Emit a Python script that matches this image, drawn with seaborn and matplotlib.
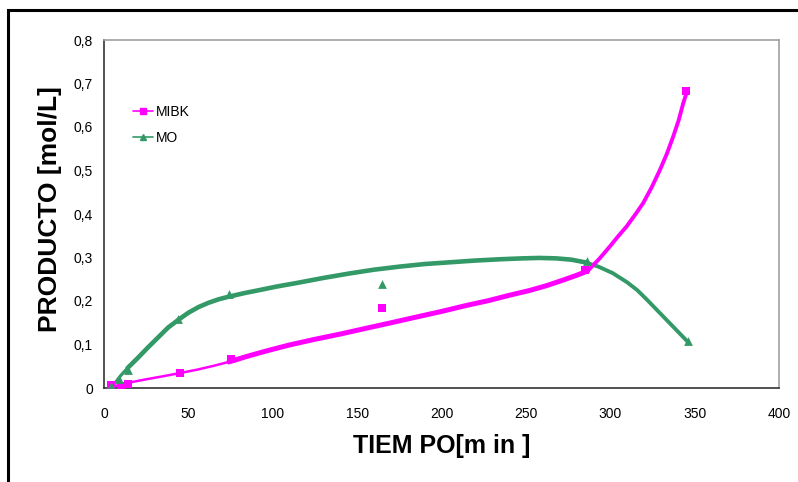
import matplotlib
matplotlib.use("Agg")
import matplotlib.pyplot as plt
from matplotlib.lines import Line2D
from matplotlib.patches import Rectangle
from matplotlib.ticker import FuncFormatter
import seaborn as sns
import pandas as pd

# Measured points
t_mibk = [4, 10, 14, 45, 75, 165, 285, 345]
mibk = [0.007, 0.005, 0.010, 0.034, 0.066, 0.184, 0.271, 0.683]
t_mo = [4, 9, 14, 44, 74, 165, 286, 346]
mo = [0.005, 0.020, 0.041, 0.159, 0.216, 0.239, 0.292, 0.108]

# Trend curves
fit_t_mibk = [3, 8, 13, 25, 35, 44.5, 55, 65, 74, 85, 97, 110, 125, 140, 155, 169,
              185, 200, 215, 228, 240, 252, 262, 272, 280, 286.6,
              293.5, 299.7, 304.5, 309.6, 314.5, 319.5, 324.5, 329.4, 333.5,
              337.3, 340.5, 343.2, 345.6]
fit_mibk = [0.0, 0.006, 0.011, 0.020, 0.027, 0.034, 0.042, 0.051, 0.060, 0.073,
            0.086, 0.099, 0.112, 0.124, 0.137, 0.149, 0.163, 0.176, 0.190, 0.201,
            0.213, 0.224, 0.235, 0.248, 0.259, 0.269,
            0.297, 0.325, 0.348, 0.371, 0.397, 0.425, 0.461, 0.501, 0.538,
            0.578, 0.615, 0.654, 0.683]
fit_t_mo = [4, 7, 10, 14, 20, 26, 32, 38, 44.5, 50, 56, 62, 68, 74, 83, 92, 102,
            115, 130, 145, 160, 175, 190, 205, 220, 235, 248, 258, 268, 277, 285,
            293, 301.5, 310, 316, 322, 328, 334, 340, 346]
fit_mo = [0.0, 0.014, 0.029, 0.046, 0.069, 0.093, 0.116, 0.139, 0.158, 0.173,
          0.186, 0.196, 0.204, 0.210, 0.218, 0.225, 0.233, 0.242, 0.253, 0.263,
          0.272, 0.279, 0.285, 0.289, 0.293, 0.296, 0.298, 0.299, 0.298, 0.295,
          0.289, 0.279, 0.264, 0.243, 0.225, 0.202, 0.178, 0.154, 0.130, 0.106]

x_ticks = [0, 50, 100, 150, 200, 250, 300, 350, 400]
y_ticks = [0, 0.1, 0.2, 0.3, 0.4, 0.5, 0.6, 0.7, 0.8]

MAGENTA = "#FF00FF"
GREEN = "#339966"

sns.set_style("white")
plt.rcParams["font.family"] = ["Liberation Sans", "DejaVu Sans"]
plt.rcParams["text.color"] = "black"
plt.rcParams["axes.labelcolor"] = "black"
plt.rcParams["lines.solid_joinstyle"] = "round"
plt.rcParams["lines.solid_capstyle"] = "round"

fig = plt.figure(figsize=(7.98, 4.82), dpi=100)
ax = fig.add_axes([104 / 798, 1 - 388 / 482, (779 - 104) / 798, (388 - 40) / 482])

fit_mibk_df = pd.DataFrame({"t": fit_t_mibk, "c": fit_mibk})
fit_mo_df = pd.DataFrame({"t": fit_t_mo, "c": fit_mo})

# trend lines (thickness varies along the curve like the original)
sns.lineplot(data=fit_mo_df.iloc[:4], x="t", y="c", sort=False, estimator=None,
             color=GREEN, lw=2.3, ax=ax)
sns.lineplot(data=fit_mo_df.iloc[3:31], x="t", y="c", sort=False, estimator=None,
             color=GREEN, lw=3.3, ax=ax)
sns.lineplot(data=fit_mo_df.iloc[30:], x="t", y="c", sort=False, estimator=None,
             color=GREEN, lw=2.8, ax=ax)
sns.lineplot(data=fit_mibk_df.iloc[:9], x="t", y="c", sort=False, estimator=None,
             color=MAGENTA, lw=1.8, ax=ax)
sns.lineplot(data=fit_mibk_df.iloc[8:26], x="t", y="c", sort=False, estimator=None,
             color=MAGENTA, lw=3.6, ax=ax)
sns.lineplot(data=fit_mibk_df.iloc[25:], x="t", y="c", sort=False, estimator=None,
             color=MAGENTA, lw=2.8, ax=ax)

sns.scatterplot(x=t_mibk, y=mibk, marker="s", s=28, color=MAGENTA, edgecolor=MAGENTA,
                linewidth=0, ax=ax, zorder=4)
sns.scatterplot(x=t_mo, y=mo, marker="^", s=40, color=GREEN, edgecolor=GREEN,
                linewidth=0, ax=ax, zorder=4)

ax.set_xlim(0, 400)
ax.set_ylim(0, 0.8)
ax.set_xticks(x_ticks)
ax.set_yticks(y_ticks)
ax.xaxis.set_major_formatter(FuncFormatter(lambda v, p: f"{v:g}"))
ax.yaxis.set_major_formatter(FuncFormatter(lambda v, p: f"{v:g}".replace(".", ",")))
ax.tick_params(axis="both", direction="out", length=5, width=1, color="#333333",
               labelsize=10, labelcolor="black")
ax.tick_params(axis="x", pad=9)
ax.tick_params(axis="y", pad=3)

for side in ["left", "bottom"]:
    ax.spines[side].set_color("#333333")
    ax.spines[side].set_linewidth(1.2)
for side in ["top", "right"]:
    ax.spines[side].set_color("#A0A0A0")
    ax.spines[side].set_linewidth(1.2)

ax.set_xlabel("TIEM PO[m in ]", fontsize=18, fontweight="bold", labelpad=9)
ax.set_ylabel("PRODUCTO [mol/L]", fontsize=19, fontweight="bold")
ax.yaxis.set_label_coords(-0.062, 0.515)

handles = [
    Line2D([], [], color=MAGENTA, lw=1.2, marker="s", markersize=5),
    Line2D([], [], color=GREEN, lw=1.2, marker="^", markersize=5),
]
ax.legend(handles, ["MIBK", "MO"], loc="upper left", bbox_to_anchor=(0.025, 0.85),
          frameon=False, fontsize=10, handlelength=1.4, handletextpad=0.2,
          labelspacing=0.9)

# outer chart frame
fig.add_artist(Rectangle((8 / 798, -0.2), 1.2, 1.2 - 10 / 482,
                         transform=fig.transFigure, fill=False,
                         edgecolor="black", lw=2.2, clip_on=False))

fig.savefig("out.png", dpi=100)
